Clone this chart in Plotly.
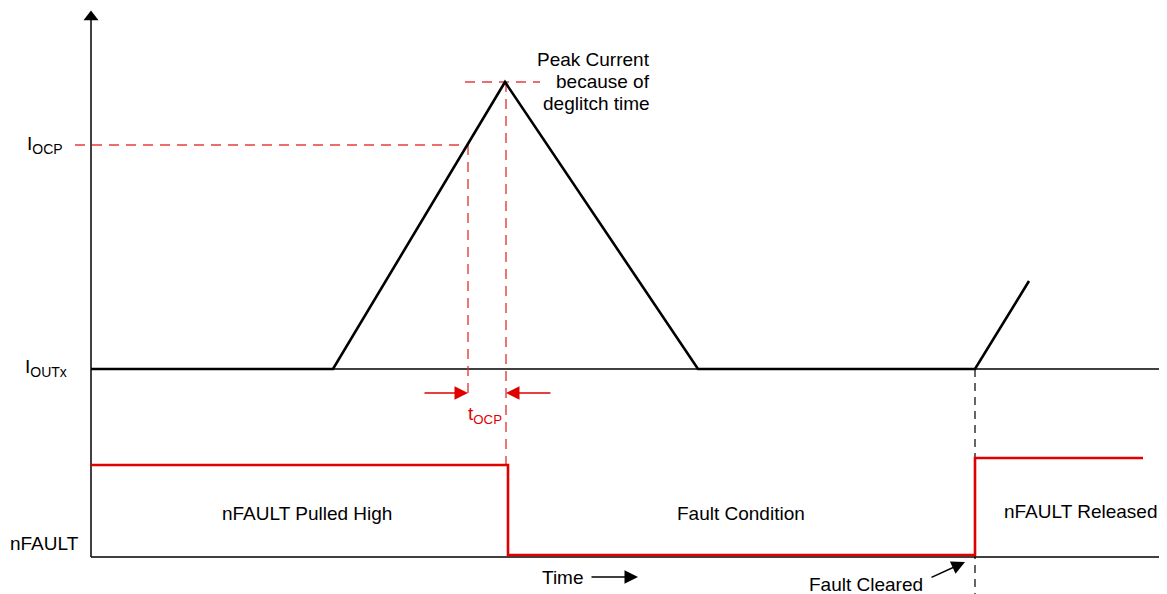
import plotly.graph_objects as go

# ---- data (time units ~ px, level units ~ px relative to I_OUTx baseline) ----
# Output current trace
t_current = [0, 242, 414, 607, 884, 938]
i_current = [0, 0, 287, 0, 0, 88]

# Threshold / peak levels
I_OCP = 224
I_PEAK = 287
t_ocp_cross = 377      # time current crosses I_OCP
t_deglitch_end = 415   # time peak reached (end of deglitch)

# nFAULT signal
t_nfault = [0, 417, 417, 884, 884, 1052]
v_nfault = [-96, -96, -186, -186, -89, -89]

# axes extents
T_END = 1076
Y_TOP = 357
Y_BOTTOM = -188
t_fault_cleared = 884

RED = "#e00000"
RED_D = "rgba(225,40,40,0.9)"
FONT = "Liberation Sans, Arial, Helvetica, sans-serif"

fig = go.Figure()

def line(x, y, color="black", width=1.5, dash=None):
    fig.add_trace(go.Scatter(x=x, y=y, mode="lines", hoverinfo="skip",
                             line=dict(color=color, width=width, dash=dash)))

# axes
line([0, 0], [Y_BOTTOM, Y_TOP - 6], width=1.5)
line([0, T_END], [Y_BOTTOM, Y_BOTTOM], width=1.5)
line([0, T_END], [0, 0], width=1.3)
fig.add_trace(go.Scatter(x=[0], y=[Y_TOP - 5], mode="markers", hoverinfo="skip",
                         marker=dict(symbol="triangle-up", size=13, color="black")))

# dashed guides
line([-16, t_ocp_cross], [I_OCP, I_OCP], color=RED_D, width=1.4, dash="10px,7px")
line([t_ocp_cross, t_ocp_cross], [I_OCP, -24], color=RED_D, width=1.4, dash="10px,7px")
line([374, 449], [I_PEAK, I_PEAK], color=RED_D, width=1.4, dash="10px,7px")
line([t_deglitch_end, t_deglitch_end], [I_PEAK, -96], color=RED_D, width=1.4, dash="10px,7px")
line([t_fault_cleared, t_fault_cleared], [0, -225], color="black", width=1.2, dash="8px,6px")

# current trace
line(t_current, i_current, color="black", width=2.6)

# nFAULT trace
line(t_nfault, v_nfault, color=RED, width=2.6)

def text(x, y, s, color="black", size=19, xanchor="center", align="center"):
    fig.add_annotation(x=x, y=y, text=s, showarrow=False, xanchor=xanchor, yanchor="middle",
                       align=align, font=dict(family=FONT, size=size, color=color))

def arrow(x0, y0, x1, y1, color="black", width=1.5, head=2, size=1.8):
    fig.add_annotation(x=x1, y=y1, ax=x0, ay=y0, axref="x", ayref="y", xref="x", yref="y",
                       text="", showarrow=True, arrowhead=head, arrowsize=size,
                       arrowwidth=width, arrowcolor=color)

text(-46, 224, "I<sub><span style='font-size:14px'>OCP</span></sub>")
text(-45, 1, "I<sub><span style='font-size:14px'>OUTx</span></sub>")
text(-47, -174, "nFAULT")
text(216, -144, "nFAULT Pulled High")
text(650, -144, "Fault Condition")
text(990, -142, "nFAULT Released")
text(472, -208, "Time")
text(775, -215, "Fault Cleared")
text(561, 310, "Peak Current", xanchor="right", align="right")
text(561, 288, "because of", xanchor="right", align="right")
text(561, 266, "deglitch time", xanchor="right", align="right")
text(394, -46, "t<sub>OCP</sub>", color=RED)

arrow(332, -24, t_ocp_cross, -24, color=RED, width=1.5)
arrow(461, -24, t_deglitch_end, -24, color=RED, width=1.5)
arrow(499, -208, 547, -208)
arrow(839, -209, 874, -193)

# body has an 8px margin in the page: compensate in the ranges
fig.update_layout(
    width=1159, height=586, margin=dict(l=0, r=0, t=0, b=0),
    paper_bgcolor="white", plot_bgcolor="white", showlegend=False,
    xaxis=dict(range=[-83, 1076], visible=False, fixedrange=True),
    yaxis=dict(range=[-225, 361], visible=False, fixedrange=True),
)
fig.write_html("out.html")
